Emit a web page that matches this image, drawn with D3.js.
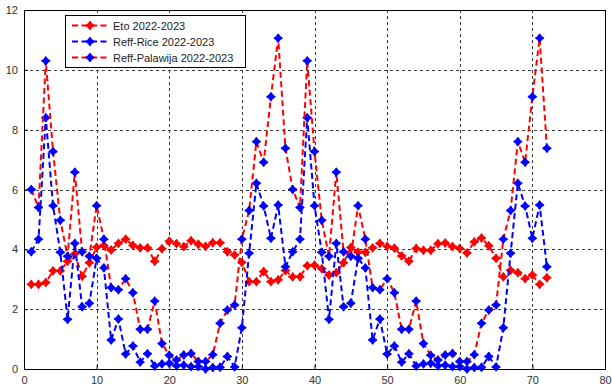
<!DOCTYPE html>
<html>
<head>
<meta charset="utf-8">
<script src="https://cdn.jsdelivr.net/npm/d3@7"></script>
<style>
    body { margin: 0; background: #fff; }
    svg { display: block; font-family: "Liberation Sans", Arial, sans-serif; }
</style>
</head>
<body>
<svg id="main_svg" width="612" height="389"></svg>
<script>
// values, one per dekad (1..72)
var eto = [2.83, 2.83, 2.89, 3.28, 3.28, 3.6, 3.85, 3.1, 3.55, 4.07,
    4.13, 3.98, 4.2, 4.34, 4.13, 4.05, 4.05, 3.6, 4.02, 4.27,
    4.19, 4.09, 4.29, 4.17, 4.1, 4.22, 4.22, 3.92, 3.81, 3.56,
    2.92, 2.92, 3.26, 2.92, 2.98, 3.29, 3.08, 3.08, 3.45, 3.47,
    3.35, 3.14, 3.22, 3.55, 4.06, 3.9, 3.9, 4.05, 4.2, 4.1,
    4.04, 3.78, 3.6, 4.03, 3.97, 3.97, 4.19, 4.21, 4.09, 4.03,
    3.88, 4.25, 4.38, 4.12, 3.7, 3.08, 3.3, 3.22, 3.02, 3.14,
    2.83, 3.05];

var reffRice = [3.92, 4.34, 8.4, 5.46, 3.9, 1.66, 4.2, 2.08, 2.2, 3.7,
    3.38, 0.97, 1.67, 0.5, 0.77, 0.23, 0.51, 0.1, 0.17, 0.19,
    0.11, 0.13, 0.08, 0.08, 0.0, 0.05, 0.06, 0.42, 0.07, 1.38,
    3.87, 6.21, 5.45, 4.37, 5.48, 3.42, 3.92, 4.34, 8.4, 5.46,
    3.9, 1.66, 4.2, 2.08, 2.2, 3.7, 3.38, 0.97, 1.67, 0.5,
    0.77, 0.23, 0.51, 0.1, 0.17, 0.19, 0.11, 0.13, 0.08, 0.08,
    0.0, 0.05, 0.06, 0.42, 0.07, 1.38, 3.87, 6.21, 5.45, 4.37,
    5.48, 3.42];

var reffPalawija = [6.0, 5.4, 10.3, 7.27, 4.97, 3.77, 6.58, 3.92, 3.77, 5.46,
    4.34, 2.72, 2.65, 3.02, 2.55, 1.33, 1.33, 2.27, 0.85, 0.46,
    0.3, 0.47, 0.52, 0.25, 0.25, 0.48, 1.53, 1.97, 2.14, 4.34,
    5.3, 7.6, 6.91, 9.1, 11.06, 7.38, 6.0, 5.4, 10.3, 7.27,
    4.97, 3.77, 6.58, 3.92, 3.77, 5.46, 4.34, 2.72, 2.65, 3.02,
    2.55, 1.33, 1.33, 2.27, 0.85, 0.46, 0.3, 0.47, 0.52, 0.25,
    0.25, 0.48, 1.53, 1.97, 2.14, 4.34, 5.3, 7.6, 6.91, 9.1,
    11.06, 7.38];

var seriesNames = ["Eto 2022-2023", "Reff-Rice 2022-2023", "Reff-Palawija 2022-2023"];
var xTicks = [0, 10, 20, 30, 40, 50, 60, 70, 80];
var yTicks = [0, 2, 4, 6, 8, 10, 12];

var series = [
    { name: seriesNames[0], values: eto, line: "#ff0000", marker: "#ff0000" },
    { name: seriesNames[1], values: reffRice, line: "#0000ff", marker: "#0000ff" },
    { name: seriesNames[2], values: reffPalawija, line: "#ff0000", marker: "#0000ff" }
];

var svg = d3.select("#main_svg");
// plot box (window.top is reserved, so p* names)
var pLeft = 24, pRight = 605, pTop = 10, pBottom = 369;

var x = d3.scaleLinear().domain([0, 80]).range([pLeft, pRight]);
var y = d3.scaleLinear().domain([0, 12]).range([pBottom, pTop]);

// dotted grid
var grid = svg.append("g").attr("id", "grid");
grid.selectAll("line.gx")
    .data(xTicks.slice(1, -1))
    .enter()
    .append("line")
    .attr("class", "gx")
    .attr("x1", function(d) { return Math.round(x(d)) + 0.5; })
    .attr("x2", function(d) { return Math.round(x(d)) + 0.5; })
    .attr("y1", pTop)
    .attr("y2", pBottom)
    .attr("stroke", "#3a3a3a")
    .attr("stroke-dasharray", "3,3");
grid.selectAll("line.gy")
    .data(yTicks.slice(1, -1))
    .enter()
    .append("line")
    .attr("class", "gy")
    .attr("x1", pLeft)
    .attr("x2", pRight)
    .attr("y1", function(d) { return Math.round(y(d)) + 0.5; })
    .attr("y2", function(d) { return Math.round(y(d)) + 0.5; })
    .attr("stroke", "#3a3a3a")
    .attr("stroke-dasharray", "3,3");

// axes, ticks pointing inward like matlab
var xAxis = svg.append("g")
    .attr("transform", "translate(0," + pBottom + ")")
    .call(d3.axisBottom(x).tickValues(xTicks).tickSizeInner(-4).tickSizeOuter(0).tickPadding(7));
var yAxis = svg.append("g")
    .attr("transform", "translate(" + pLeft + ",0)")
    .call(d3.axisLeft(y).tickValues(yTicks).tickSizeInner(-4).tickSizeOuter(0).tickPadding(6));

[xAxis, yAxis].forEach(function(a) {
    a.select(".domain").remove();
    a.selectAll("line").attr("stroke", "#000");
    a.selectAll("text")
        .attr("font-size", 11)
        .attr("fill", "#333")
        .attr("font-family", "Liberation Sans, Arial, sans-serif");
});

// frame
svg.append("rect")
    .attr("x", pLeft + 0.5)
    .attr("y", pTop + 0.5)
    .attr("width", pRight - pLeft)
    .attr("height", pBottom - pTop)
    .attr("fill", "none")
    .attr("stroke", "#000");

// four pointed marker
var starMarker = {
    draw: function(ctx, size) {
        var r = Math.sqrt(size) / 1.4, c = r * 0.42;
        ctx.moveTo(0, -r);
        ctx.lineTo(c, -c);
        ctx.lineTo(r, 0);
        ctx.lineTo(c, c);
        ctx.lineTo(0, r);
        ctx.lineTo(-c, c);
        ctx.lineTo(-r, 0);
        ctx.lineTo(-c, -c);
        ctx.closePath();
    }
};
var markerPath = d3.symbol().type(starMarker).size(33)();

var line = d3.line()
    .x(function(d, i) { return x(i + 1); })
    .y(function(d) { return y(d); });

var plot = svg.append("g").attr("id", "series");
series.forEach(function(s) {
    var g = plot.append("g");
    g.append("path")
        .datum(s.values)
        .attr("d", line)
        .attr("fill", "none")
        .attr("stroke", s.line)
        .attr("stroke-width", 2)
        .attr("stroke-dasharray", "6,3.5");
    g.selectAll("path.mk")
        .data(s.values)
        .enter()
        .append("path")
        .attr("class", "mk")
        .attr("d", markerPath)
        .attr("transform", function(d, i) {
            return "translate(" + x(i + 1) + "," + y(d) + ")";
        })
        .attr("fill", s.marker)
        .attr("stroke", s.marker)
        .attr("stroke-width", 1.2)
        .attr("stroke-linejoin", "round");
});

// legend
var legend = svg.append("g").attr("id", "legend");
legend.append("rect")
    .attr("x", 65.5)
    .attr("y", 15.5)
    .attr("width", 180)
    .attr("height", 52)
    .attr("fill", "#fff")
    .attr("stroke", "#000");

var items = legend.selectAll("g.item")
    .data(series)
    .enter()
    .append("g")
    .attr("class", "item")
    .attr("transform", function(d, i) {
        return "translate(0," + (25.5 + i * 16) + ")";
    });
items.append("line")
    .attr("x1", 72)
    .attr("x2", 108)
    .attr("stroke", function(d) { return d.line; })
    .attr("stroke-width", 2)
    .attr("stroke-dasharray", "6,3.5");
items.append("path")
    .attr("d", markerPath)
    .attr("transform", "translate(90,0)")
    .attr("fill", function(d) { return d.marker; })
    .attr("stroke", function(d) { return d.marker; })
    .attr("stroke-width", 1.2)
    .attr("stroke-linejoin", "round");
items.append("text")
    .attr("x", 113)
    .attr("y", 4)
    .attr("font-size", 11)
    .attr("fill", "#222")
    .text(function(d) { return d.name; });
</script>
</body>
</html>
